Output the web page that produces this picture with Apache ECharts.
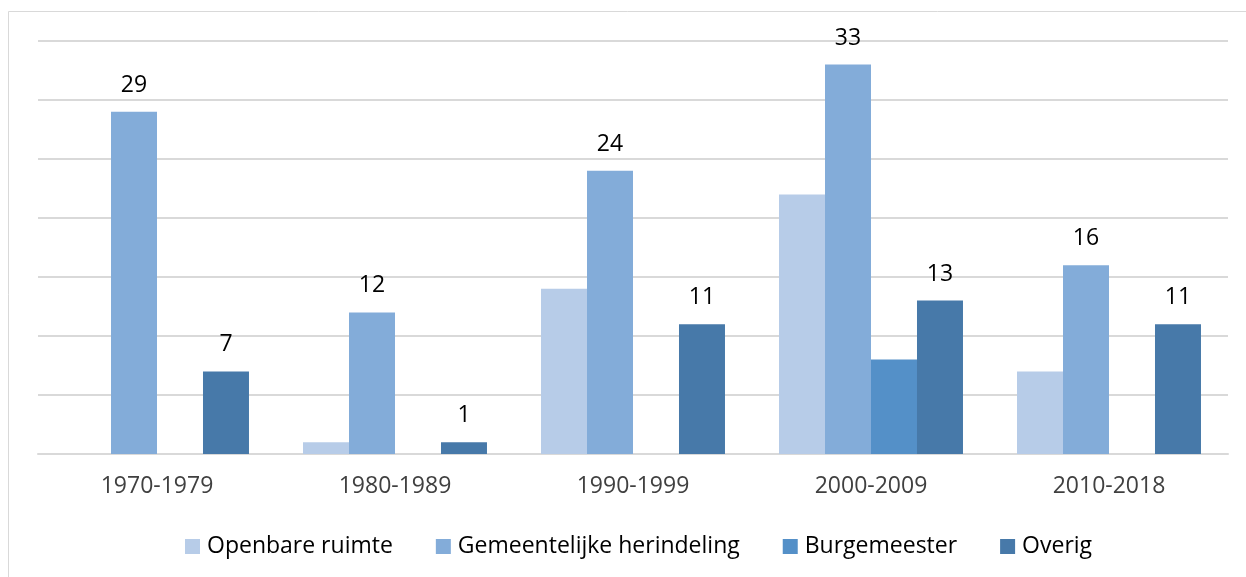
<!DOCTYPE html>
<html>
<head>
<meta charset="utf-8">
<script src="https://cdn.jsdelivr.net/npm/echarts@6/dist/echarts.min.js"></script>
<style>
html,body{margin:0;padding:0;background:#fff;}
#chart{width:1246px;height:577px;}
</style>
</head>
<body>
<div id="chart"></div>
<script>
const categories = ['1970-1979', '1980-1989', '1990-1999', '2000-2009', '2010-2018'];
const seriesNames = ['Openbare ruimte', 'Gemeentelijke herindeling', 'Burgemeester', 'Overig'];
const openbareRuimte = [0, 1, 14, 22, 7];
const gemeentelijkeHerindeling = [29, 12, 24, 33, 16];
const burgemeester = [0, 0, 0, 8, 0];
const overig = [7, 1, 11, 13, 11];
const colors = ['#B7CCE8', '#83ACD9', '#5490C8', '#4779A9'];

const font = '"Open Sans", "Noto Sans", sans-serif';
const chart = echarts.init(document.getElementById('chart'), null, {renderer: 'canvas'});

function mk(name, data, color, showLabel) {
  return {
    name: name,
    type: 'bar',
    data: data,
    barGap: '0%',
    barCategoryGap: '22.7%',
    itemStyle: {color: color},
    label: {
      show: showLabel,
      position: 'top',
      distance: 15,
      color: '#000',
      fontSize: 23,
      fontFamily: font
    }
  };
}

chart.setOption({
  animation: false,
  backgroundColor: '#fff',
  graphic: [{
    type: 'rect',
    shape: {x: 8.5, y: 11.5, width: 1260, height: 600},
    style: {fill: 'none', stroke: '#D9D9D9', lineWidth: 1}
  }],
  legend: {
    top: 530,
    left: 180,
    itemWidth: 15,
    itemHeight: 15,
    itemGap: 43,
    icon: 'rect',
    textStyle: {color: '#000', fontSize: 23, fontFamily: font, padding: [0, 0, 0, 2]},
    data: seriesNames
  },
  grid: {left: 38, right: 18, top: 41, bottom: 123},
  xAxis: {
    type: 'category',
    data: categories,
    axisTick: {show: false},
    axisLine: {lineStyle: {color: '#D9D9D9', width: 2}},
    axisLabel: {color: '#404040', fontSize: 23, fontFamily: font, margin: 21}
  },
  yAxis: {
    type: 'value',
    min: 0,
    max: 35,
    interval: 5,
    axisLabel: {show: false},
    axisLine: {show: false},
    axisTick: {show: false},
    splitLine: {lineStyle: {color: '#D9D9D9', width: 2}}
  },
  series: [
    mk(seriesNames[0], openbareRuimte, colors[0], false),
    mk(seriesNames[1], gemeentelijkeHerindeling, colors[1], true),
    mk(seriesNames[2], burgemeester, colors[2], false),
    mk(seriesNames[3], overig, colors[3], true)
  ]
});
</script>
</body>
</html>
